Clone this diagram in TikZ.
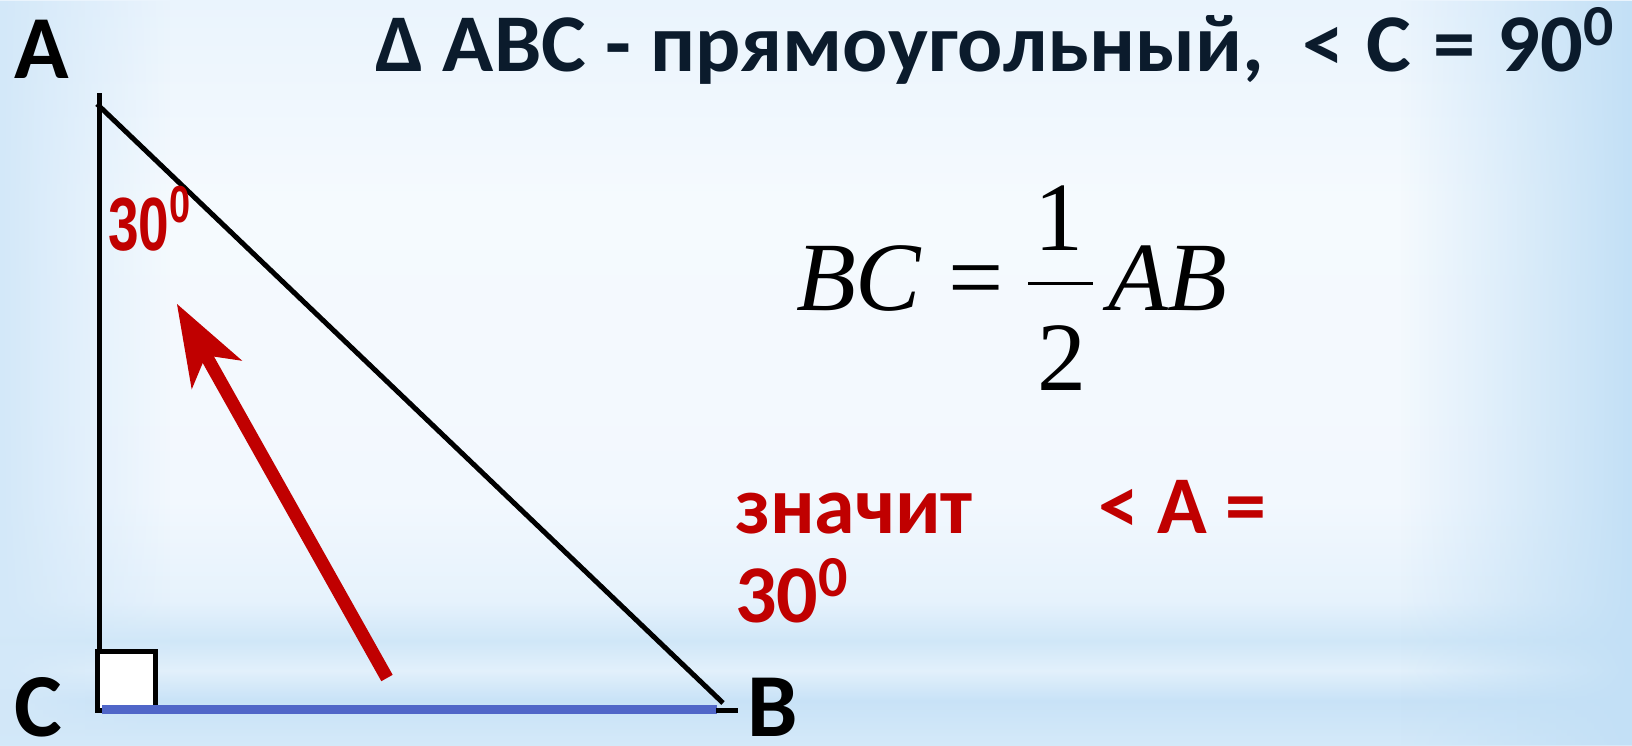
\documentclass[tikz,border=0pt]{standalone}
\usepackage{fontspec}
\setmainfont{Carlito}
\newfontfamily\mathserif{Liberation Serif}
\newfontfamily\narrowsans{Liberation Sans}
\usetikzlibrary{fadings,calc}
\definecolor{darkred}{HTML}{C00000}
\definecolor{titleink}{HTML}{0B1B2C}
\definecolor{bluebase}{RGB}{80,102,200}
\definecolor{b0}{HTML}{D4E9F9}
\definecolor{b1}{HTML}{C8E2F7}
\definecolor{b2}{HTML}{E2F0FB}
\definecolor{b3}{HTML}{D0E7F8}
\definecolor{b4}{HTML}{E6F2FC}
\definecolor{b5}{HTML}{F2F8FE}
\definecolor{b6}{HTML}{F5FAFE}
\definecolor{b7}{HTML}{EAF4FD}
\definecolor{edgeL}{HTML}{D3E8F9}
\definecolor{edgeR}{HTML}{C3E0F6}
\pgfdeclareverticalshading{bgv}{100bp}{color(0bp)=(b0); color(25bp)=(b0); color(28bp)=(b1); color(30bp)=(b2); color(32bp)=(b3); color(34.7bp)=(b4); color(41.4bp)=(b5); color(61.6bp)=(b6); color(75bp)=(b7); color(100bp)=(b7)}
\tikzfading[name=fadeleft, left color=transparent!0, right color=transparent!100]
\tikzfading[name=faderight, left color=transparent!100, right color=transparent!0]
\newcommand{\degsup}[2]{\raisebox{#2}{\fontsize{#1}{#1}\selectfont 0}}
\begin{document}
\begin{tikzpicture}[x={(0.5pt,0)}, y={(0,-0.5pt)},
  every node/.style={inner sep=0pt, outer sep=0pt},
  leg/.style={draw=black, line width=2.5pt},
  baseline/.style={draw=bluebase, line width=4.5pt},
  lbl/.style={font=\bfseries\fontsize{45}{50}\selectfont, text=black},
  titletext/.style={font=\bfseries\fontsize{41}{46}\selectfont, text=titleink},
  redtext/.style={font=\bfseries\fontsize{41}{46}\selectfont, text=darkred},
  eqtext/.style={font=\mathserif\fontsize{49}{55}\selectfont, text=black},
  fracbar/.style={draw=black, line width=1.5pt},
  redshaft/.style={draw=darkred, line width=6.5pt}]
\shade[shading=bgv] (0,0) rectangle (1632,745);
\fill[edgeL, path fading=fadeleft] (0,0) rectangle (170,745);
\fill[edgeR, path fading=faderight] (1400,0) rectangle (1632,745);
\useasboundingbox (0,0) rectangle (1632,745);

% triangle
\coordinate (Atop) at (99.5,93);
\coordinate (Csq) at (99.5,652);
\coordinate (Ah) at (97,104);
\coordinate (Bh) at (723,703);
\coordinate (sq1) at (97.5,651.5);
\coordinate (sq2) at (155.5,710.5);
\coordinate (bl1) at (102,709);
\coordinate (bl2) at (717,709);
\coordinate (bt1) at (716,710);
\coordinate (bt2) at (738,710);
\draw[leg] (Atop) -- (Csq);
\draw[leg] (Ah) -- (Bh);
\draw[leg, fill=white] (sq1) rectangle (sq2);
\draw[baseline] (bl1) -- (bl2);
\draw[leg] (bt1) -- (bt2);

% labels
\node[lbl, anchor=base west] (A) at (14,78) {A};
\node[lbl, anchor=base west] (C) at (14,736) {C};
\node[lbl, anchor=base west] (B) at (747,736) {B};

% angle label
\node[anchor=base west, text=darkred] (ang) at (108,250)
  {\scalebox{0.73}[1]{\narrowsans\bfseries\fontsize{37.7}{40}\selectfont 30\degsup{26}{14pt}}};

% arrow
\coordinate (arTail) at (387,678);
\coordinate (arTip) at (177,304);
\coordinate (arNotch) at (205.9,355.4);
\coordinate (barb1) at (242.3,360.8);
\coordinate (barb2) at (191.7,389.4);
\draw[redshaft] (arTail) -- (arNotch);
\fill[darkred] (arTip) -- (barb1) -- (arNotch) -- (barb2) -- cycle;

% title
\node[titletext, anchor=base west] (T) at (375,71)
  {\scalebox{1.03}[1]{Δ ABC - прямоугольный,\ \ <\hspace{1.5pt} C\hspace{1.5pt} =\hspace{1.5pt} 90\degsup{29}{12.6pt}}};

% formula
\node[eqtext, anchor=base west] (lhs) at (796,310) {\itshape BC};
\node[eqtext, anchor=base west] (eqs) at (948,310) {=};
\node[eqtext, anchor=base] (num) at (1059,250) {1};
\node[eqtext, anchor=base] (den) at (1062,390) {2};
\coordinate (fb1) at (1028,283);
\coordinate (fb2) at (1093,283);
\draw[fracbar] (fb1) -- (fb2);
\node[eqtext, anchor=base west] (rhs) at (1108,310) {\itshape AB};

% red conclusion
\node[redtext, anchor=base west] (zn) at (735,533) {значит};
\node[redtext, anchor=base west] (ltA) at (1098,533) {< A =};
\node[redtext, anchor=base west] (th) at (735,622) {30\degsup{29}{12.6pt}};
\end{tikzpicture}
\end{document}
